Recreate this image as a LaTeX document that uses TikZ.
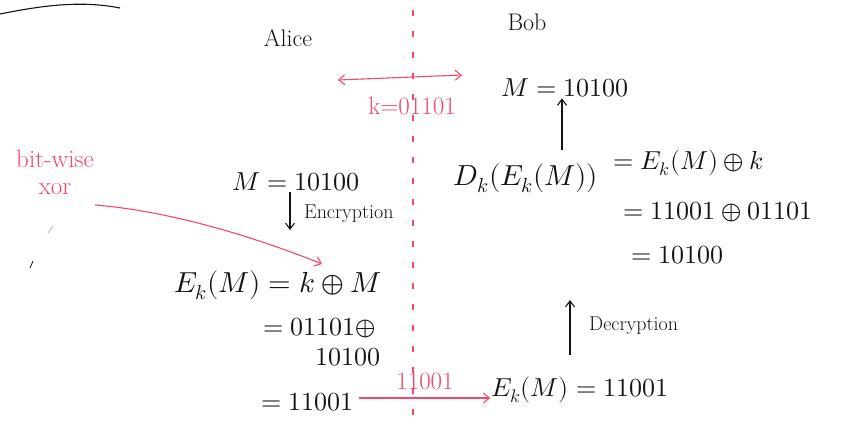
\documentclass[tikz,border=0pt]{standalone}
\usepackage{unicode-math}
\usetikzlibrary{arrows.meta,calc}
\definecolor{pen}{RGB}{246,72,104}
\definecolor{ink}{RGB}{20,20,20}
\tikzset{
  x=1pt,y=-1pt,
  lbl/.style={inner sep=1pt,text=ink,font=\fontsize{20}{24}\selectfont},
  partyname/.style={inner sep=1pt,text=ink,font=\fontsize{24}{28}\selectfont},
  eq/.style={inner sep=1pt,text=ink,font=\fontsize{26}{30}\selectfont},
  bigeq/.style={inner sep=1pt,text=ink,font=\fontsize{29}{32}\selectfont},
  redlbl/.style={inner sep=1pt,text=pen,font=\fontsize{25}{27}\selectfont,align=center},
  arr/.style={draw=ink,line width=1.1pt,-{Straight Barb[length=6pt,width=9pt]}},
  redarr/.style={draw=pen,line width=1.1pt,-{Straight Barb[length=6pt,width=10pt]}},
  divider/.style={draw=pen,line width=1.2pt,dash pattern=on 6pt off 15pt}
}
\begin{document}
\begin{tikzpicture}
\useasboundingbox (0,0) rectangle (862,430);
% top-left stroke and stray marks
\draw[ink,line width=1.1pt] (0,14) .. controls (40,6) and (80,0) .. (120,8);
\draw[gray!60,line width=0.7pt] (48,233) -- (53,226);
\draw[ink,line width=0.8pt] (30,268) -- (33,261);
% divider
\coordinate (dtop) at (413,10);
\coordinate (dbot) at (413,430);
\draw[divider] (dtop) -- (dbot);
% parties
\node[partyname] (alice) at (288,38) {Alice};
\node[partyname] (bob) at (527,22) {Bob};
% key exchange
\coordinate (kl) at (338,80);
\coordinate (kr) at (462,75);
\draw[redarr,{Straight Barb[length=6pt,width=10pt]}-{Straight Barb[length=6pt,width=10pt]}] (kl) -- (kr);
\node[redlbl] (klab) at (412,106) {k=01101};
% Bob side
\node[eq] (bm) at (565,88) {$M = 10100$};
\node[bigeq] (dk) at (526,178) {$D_k(E_k(M))$};
\node[eq,anchor=west] (dk1) at (612,163) {$= E_k(M) \oplus k$};
\node[eq,anchor=west] (dk2) at (622,212) {$= 11001 \oplus 01101$};
\node[eq,anchor=west] (dk3) at (630,255) {$= 10100$};
\coordinate (up1) at (562,150);
\draw[arr] (up1) -- (up1 |- bm.south);
\node[eq] (bobE) at (580,390) {$E_k(M) = 11001$};
\coordinate (dec1) at (570,355);
\coordinate (dec2) at (570,300);
\draw[arr] (dec1) -- (dec2);
\node[lbl,anchor=west] (declab) at (588,326) {Decryption};
% Alice side
\node[eq] (am) at (296,182) {$M = 10100$};
\coordinate (enc2) at (290,230);
\draw[arr] (am.south -| enc2) -- (enc2);
\node[lbl,anchor=west] (enclab) at (303,214) {Encryption};
\node[bigeq] (ae) at (278,285) {$E_k(M) = k \oplus M$};
\node[eq,anchor=west] (ae1) at (262,328) {$= 01101 \oplus$};
\node[eq] (ae2) at (348,357) {$10100$};
\node[eq,anchor=west] (ae3) at (260,402) {$= 11001$};
% transmission
\coordinate (tx) at ($(ae3.east)+(4,-4)$);
\draw[redarr] (tx) -- (tx -| bobE.west);
\node[redlbl] (tlab) at (425,381) {11001};
% annotation
\node[redlbl] (bw) at (55,172) {bit-wise\\xor};
\coordinate (xorpt) at (322,264);
\draw[redarr] (95,205) .. controls (170,211) and (255,237) .. (xorpt);
\end{tikzpicture}
\end{document}
